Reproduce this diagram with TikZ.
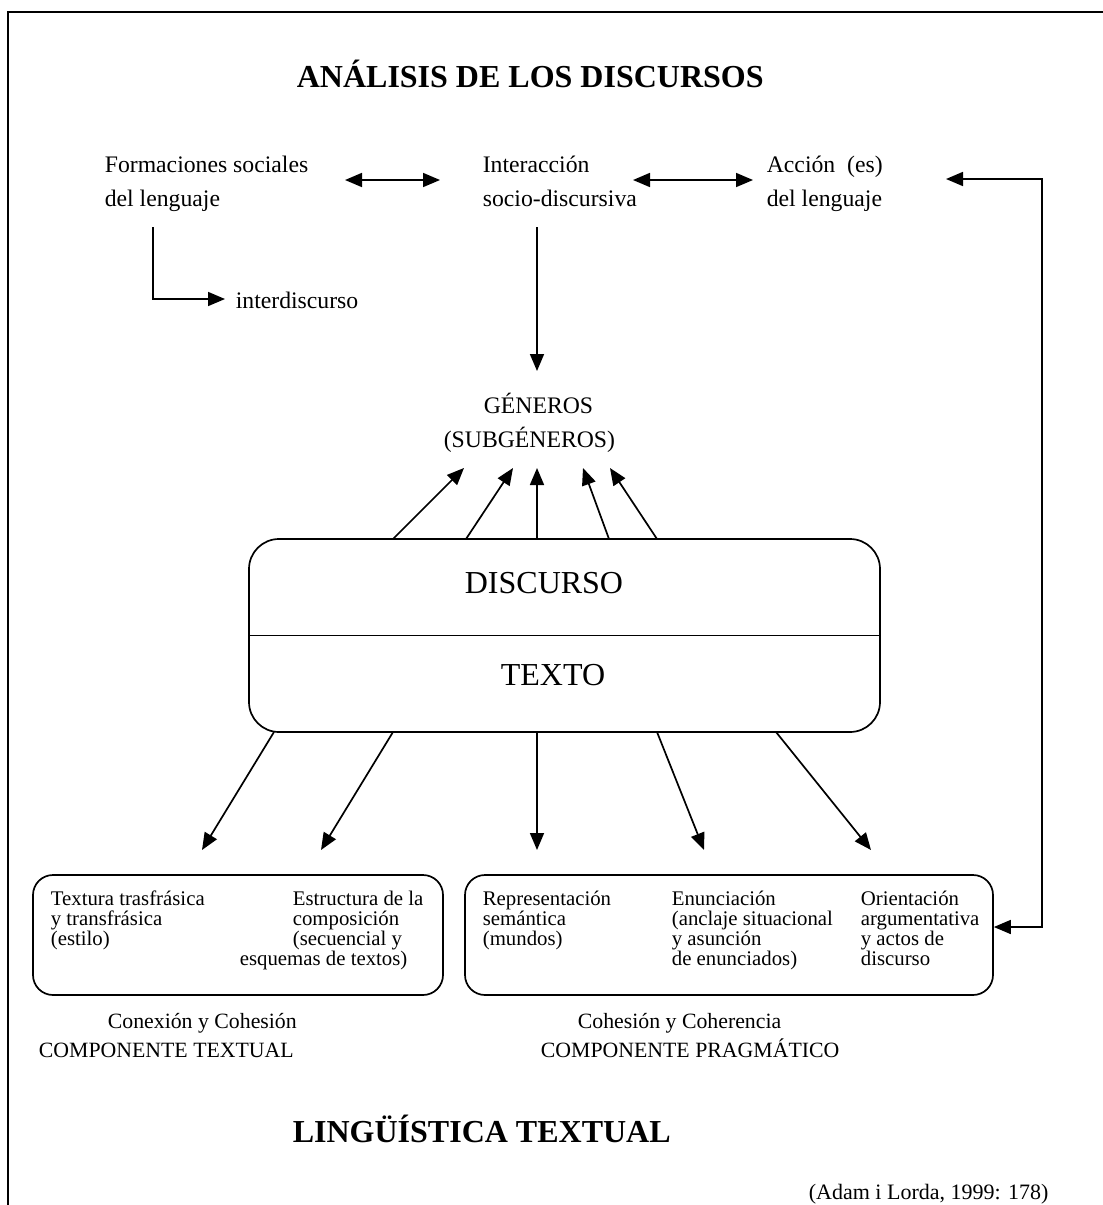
\documentclass[tikz,border=0pt]{standalone}
\usepackage{fontspec}
\setmainfont{Liberation Serif}
\usetikzlibrary{arrows.meta}
% stacked lines: first-line baseline is the box baseline
\newcommand\txtlines[2]{\vtop{\baselineskip=#1\lineskiplimit=-1000pt\lineskip=0pt\halign{##\hfil\cr#2\cr}}}
\begin{document}
\begin{tikzpicture}[x=1pt,y=-1pt,line width=1.7pt,
  lbl/.style={anchor=base west,inner sep=0pt},
  toptxt/.style={lbl,font=\fontsize{23.7}{34}\selectfont},
  boxtxt/.style={lbl,font=\fontsize{20.8}{20}\selectfont},
  captxt/.style={lbl,font=\fontsize{21.8}{29}\selectfont},
  bigtxt/.style={lbl,font=\fontsize{32}{36}\selectfont},
  headtxt/.style={lbl,font=\bfseries\fontsize{32}{36}\selectfont},
  arr/.style={-{Triangle[length=17pt,width=14pt]}},
  darr/.style={{Triangle[length=17pt,width=14pt]}-{Triangle[length=17pt,width=14pt]}},
  panel/.style={draw,inner sep=0pt}]
\useasboundingbox (0,0) rectangle (1103,1205);
\clip (0,0) rectangle (1103,1205);

% outer frame
\draw[line width=2pt] (8,12) rectangle (1130,1240);

% headings
\node[headtxt] (title) at (296,87) {ANÁLISIS DE LOS DISCURSOS};
\node[headtxt] (ltitle) at (292,1142) {LINGÜÍSTICA TEXTUAL};
\node[lbl,font=\fontsize{22}{26}\selectfont] (cite) at (808,1199) {(Adam i Lorda, 1999: 178)};

% top row
\node[toptxt] (form) at (104,172) {\txtlines{34pt}{Formaciones sociales\cr del lenguaje}};
\node[toptxt] (inter) at (482,172) {\txtlines{34pt}{Interacción\cr socio-discursiva}};
\node[toptxt] (accion) at (766,172) {\txtlines{34pt}{Acción\ \ (es)\cr del lenguaje}};
\node[toptxt] (interd) at (235,308) {interdiscurso};
\node[toptxt] (gen) at (443,413) {\txtlines{34pt}{\hskip40pt GÉNEROS\cr (SUBGÉNEROS)}};

\coordinate (fa) at (345,180); \coordinate (fb) at (440,180);
\coordinate (ia) at (633,180); \coordinate (ib) at (753,180);
\draw[darr] (fa) -- (fb);
\draw[darr] (ia) -- (ib);

\coordinate (fdown) at (153,227); \coordinate (fin) at (225,299);
\draw[arr] (fdown) |- (fin);

\coordinate (idown) at (537,227); \coordinate (igen) at (537,371);
\draw[arr] (idown) -- (igen);

% central discourse / text box
\node[panel,rounded corners=30pt,minimum width=631pt,minimum height=193pt] (core) at (564.5,635.5) {};
\draw (core.west) -- (core.east);
\node[bigtxt] (discurso) at (464,593) {DISCURSO};
\node[bigtxt] (texto) at (500,685) {TEXTO};

\foreach \s/\t [count=\i] in {393/464,466/513,537/537,609/583,657/610}{
  \coordinate (up\i-a) at (\s,539);
  \coordinate (up\i-b) at (\t,468);
  \draw[arr] (up\i-a) -- (up\i-b);
}
\foreach \s/\t [count=\i] in {274/202,393/321,537/537,657/704,776/871}{
  \coordinate (dn\i-a) at (\s,732);
  \coordinate (dn\i-b) at (\t,850);
  \draw[arr] (dn\i-a) -- (dn\i-b);
}

% component boxes
\node[panel,rounded corners=20pt,minimum width=410pt,minimum height=120pt] (tbox) at (238,935) {};
\node[panel,rounded corners=20pt,minimum width=528pt,minimum height=120pt] (pbox) at (729,935) {};

\node[boxtxt] (textura) at (50,905) {\txtlines{20pt}{Textura trasfrásica\cr y transfrásica\cr (estilo)}};
\node[boxtxt] (estruct) at (292,905) {\txtlines{20pt}{Estructura de la\cr composición\cr (secuencial y\cr \hskip-53pt esquemas de textos)}};
\node[boxtxt] (repr) at (482,905) {\txtlines{20pt}{Representación\cr semántica\cr (mundos)}};
\node[boxtxt] (enun) at (671,905) {\txtlines{20pt}{Enunciación\cr (anclaje situacional\cr y asunción\cr de enunciados)}};
\node[boxtxt] (orient) at (860,905) {\txtlines{20pt}{Orientación\cr argumentativa\cr y actos de\cr discurso}};

\node[captxt] (conex) at (107,1028) {Conexión y Cohesión};
\node[captxt] (comptx) at (38,1057) {COMPONENTE TEXTUAL};
\node[captxt] (cohes) at (577,1028) {Cohesión y Coherencia};
\node[captxt] (comppr) at (540,1057) {COMPONENTE PRAGMÁTICO};

% feedback from the pragmatic component to the language actions
\coordinate (acctip) at (946,179);
\coordinate (fbcorner) at (1042,927);
\draw[darr] (acctip) -| (fbcorner) -- (pbox.east |- fbcorner);
\end{tikzpicture}
\end{document}
